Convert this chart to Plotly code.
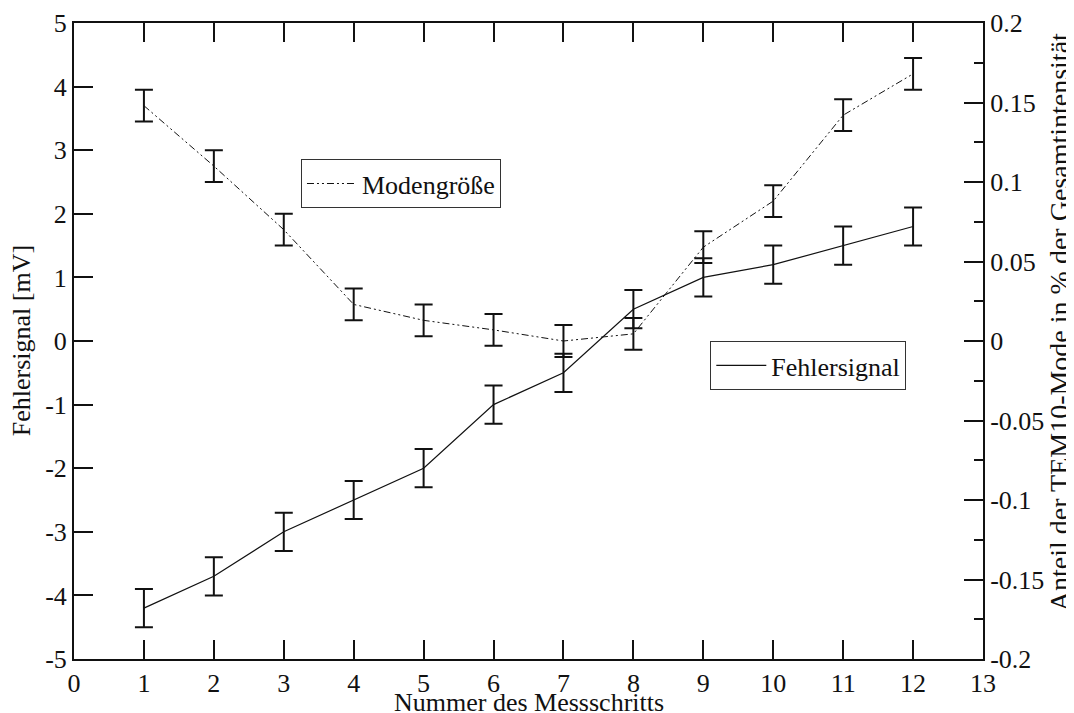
import plotly.graph_objects as go

steps = [1, 2, 3, 4, 5, 6, 7, 8, 9, 10, 11, 12]
fehlersignal = [-4.2, -3.7, -3.0, -2.5, -2.0, -1.0, -0.5, 0.5, 1.0, 1.2, 1.5, 1.8]
fehler_err = [0.3] * 12
modengroesse = [0.148, 0.110, 0.070, 0.023, 0.013, 0.007, 0.0, 0.0045, 0.059, 0.088, 0.142, 0.168]
moden_err = [0.01] * 12

x_ticks = list(range(0, 14))
y_ticks = [-5, -4, -3, -2, -1, 0, 1, 2, 3, 4, 5]
y_ticktext = ["-5", "-4", "-3", "-2", "-1", "0", "1", "2", "3", "4", "5"]
y2_ticks = [-0.2, -0.15, -0.1, -0.05, 0, 0.05, 0.1, 0.15, 0.2]
y2_ticktext = ["-0.2", "-0.15", "-0.1", "-0.05", "0", "0.05", "0.1", "0.15", "0.2"]

x_title = "Nummer des Messschritts"
y_title = "Fehlersignal [mV]"
y2_title = "Anteil der TEM10-Mode in % der Gesamtintensität"

FONT = "Liberation Serif"
FS = 26
BLACK = "#111111"

fig = go.Figure()

fig.add_trace(go.Scatter(
    x=steps, y=modengroesse, yaxis="y2", mode="lines", name="Modengröße",
    line=dict(color=BLACK, width=1, dash="7px,3px,2px,3px,2px,3px"),
    error_y=dict(type="data", array=moden_err, visible=True, color=BLACK, thickness=2, width=9),
    legend="legend",
))
fig.add_trace(go.Scatter(
    x=steps, y=fehlersignal, mode="lines", name="Fehlersignal",
    line=dict(color=BLACK, width=1.2),
    error_y=dict(type="data", array=fehler_err, visible=True, color=BLACK, thickness=2, width=9),
    legend="legend2",
))

axis_common = dict(
    showgrid=False, zeroline=False, showline=True, linecolor=BLACK, linewidth=2,
    ticks="inside", ticklen=19, tickwidth=2, tickcolor=BLACK, automargin=False,
    tickfont=dict(family=FONT, size=FS, color=BLACK),
)

legend_common = dict(
    xanchor="left", yanchor="top", bgcolor="white", bordercolor="#333333",
    borderwidth=1, itemwidth=50, font=dict(family=FONT, size=FS, color=BLACK),
)

# The page body adds an 8px offset; the figure is sized to fill the window exactly.
fig.update_layout(
    width=1066, height=705,
    margin=dict(l=66, r=91, t=15, b=54, autoexpand=False),
    paper_bgcolor="white", plot_bgcolor="white",
    font=dict(family=FONT, size=FS, color=BLACK),
    showlegend=True,
    xaxis=dict(**axis_common, range=[0, 13], tickvals=x_ticks, mirror="ticks"),
    yaxis=dict(**axis_common, range=[-5, 5], tickvals=y_ticks, ticktext=y_ticktext),
    yaxis2=dict(
        **axis_common, range=[-0.2, 0.2], tickvals=y2_ticks, ticktext=y2_ticktext,
        overlaying="y", side="right",
        minor=dict(ticks="inside", ticklen=9, tickwidth=2, tickcolor=BLACK, dtick=0.025, tick0=0),
    ),
    legend=dict(**legend_common, x=0.2497, y=0.786),
    legend2=dict(**legend_common, x=0.70, y=0.50),
    annotations=[
        dict(text=x_title, xref="paper", yref="paper", x=0.5, y=-0.043,
             xanchor="center", yanchor="top", showarrow=False,
             font=dict(family=FONT, size=FS, color=BLACK)),
        dict(text=y_title, xref="paper", yref="paper", x=-0.058, y=0.5,
             xanchor="center", yanchor="middle", textangle=-90, showarrow=False,
             font=dict(family=FONT, size=FS, color=BLACK)),
        dict(text=y2_title, xref="paper", yref="paper", x=1.085, y=0.530,
             xanchor="center", yanchor="middle", textangle=-90, showarrow=False,
             font=dict(family=FONT, size=28, color=BLACK)),
    ],
)

fig.write_html("out.html")
